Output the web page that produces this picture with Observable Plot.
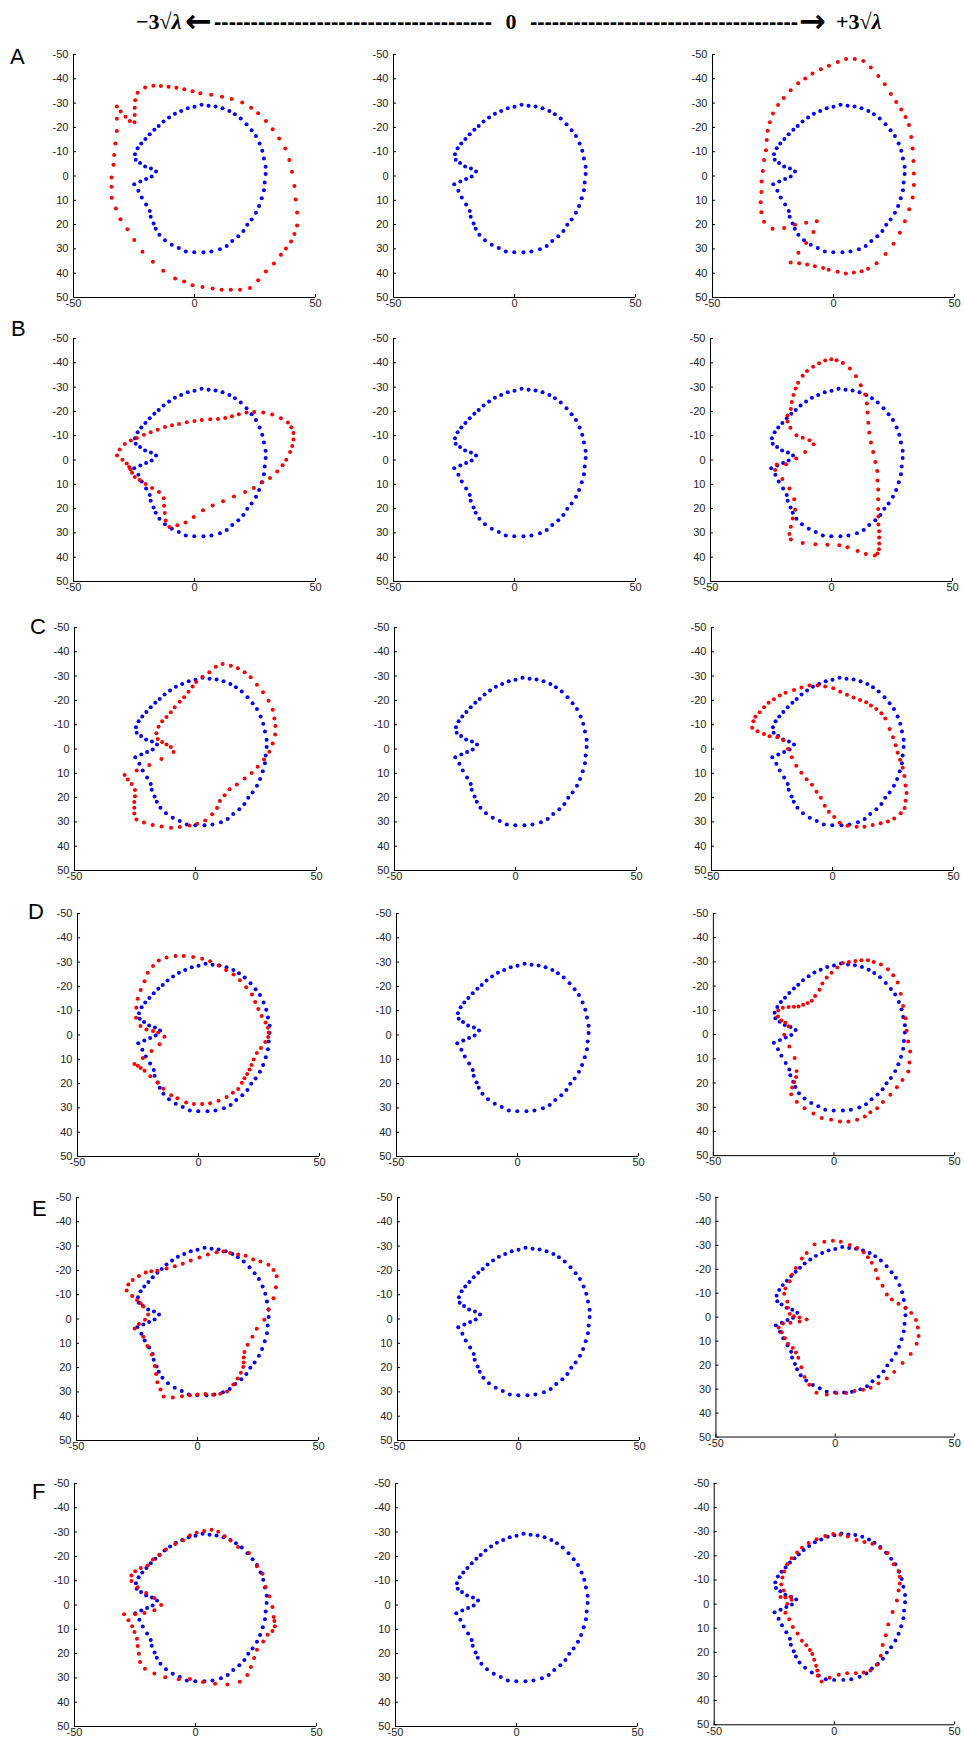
<!DOCTYPE html>
<html><head><meta charset="utf-8">
<script src="https://cdn.jsdelivr.net/npm/d3@7"></script>
<script src="https://cdn.jsdelivr.net/npm/@observablehq/plot@0.6"></script>
<style>
body{margin:0;background:#fff;}
#root{position:relative;width:964px;height:1744px;overflow:hidden;background:#fff;font-family:"Liberation Sans",Arial,sans-serif;}
.panel{position:absolute;}
.rowlabel{position:absolute;font-size:22px;line-height:1;color:#000;font-family:"Liberation Sans",Arial,sans-serif;}
</style>
</head><body><div id="root"></div>
<script>
// ---------- data ----------
const rowLabels = ["A","B","C","D","E","F"];
const xTicks = [-50, 0, 50];
const yTicks = [-50,-40,-30,-20,-10,0,10,20,30,40,50];
const headerLeft = "−3√";
const headerCenter = "0";
const headerRight = "+3√";
const headerLambda = "λ";

const meanShape = [[2.9,-29.3],[5.8,-28.9],[8.7,-28.6],[11.6,-27.9],[14.4,-26.8],[16.7,-25.4],[19.1,-23.7],[21.5,-21.3],[23.6,-18.8],[25.4,-16.5],[26.9,-13.4],[28.0,-10.4],[28.7,-7.2],[29.4,-3.8],[29.4,-0.8],[29.0,2.7],[28.7,5.9],[27.8,9.2],[26.7,12.3],[25.4,15.1],[23.6,17.9],[21.8,20.1],[20.2,22.6],[18.1,24.8],[15.6,26.7],[13.3,28.8],[10.5,30.1],[7.0,31.1],[3.7,31.4],[-0.1,31.4],[-3.6,31.1],[-6.5,29.6],[-9.4,28.3],[-12.2,26.4],[-14.5,24.2],[-16.0,21.7],[-16.9,19.5],[-18.1,16.8],[-18.5,14.4],[-20.0,11.7],[-21.8,8.8],[-23.2,6.1],[-24.9,3.4],[-22.4,2.3],[-20.0,1.2],[-17.7,0.2],[-15.9,-1.9],[-18.0,-3.1],[-20.4,-3.9],[-22.5,-5.3],[-24.3,-6.7],[-24.6,-9.0],[-23.5,-11.4],[-22.0,-13.4],[-20.3,-15.2],[-18.5,-17.2],[-16.6,-19.0],[-14.8,-20.6],[-12.8,-22.4],[-10.5,-24.1],[-8.1,-25.6],[-5.5,-26.8],[-2.8,-27.9],[0.0,-28.5]];

const shapeA_minus = [[-23.5,-34.3],[-20.4,-36.4],[-17.0,-37.1],[-13.9,-37.0],[-10.7,-36.7],[-7.5,-36.3],[-4.2,-35.7],[-0.8,-34.9],[2.4,-34.1],[6.9,-33.4],[11.4,-32.6],[15.4,-31.7],[19.7,-30.2],[23.4,-28.1],[26.3,-25.8],[29.5,-22.6],[32.3,-19.2],[35.0,-15.4],[37.5,-11.3],[39.2,-6.6],[40.3,-1.8],[41.3,4.1],[41.8,9.7],[42.4,15.0],[42.4,20.4],[41.3,23.9],[39.9,27.0],[37.8,29.8],[35.7,32.4],[32.8,36.0],[29.5,39.3],[26.3,42.9],[22.9,46.1],[18.8,46.8],[15.0,46.8],[11.2,46.8],[7.5,46.3],[3.3,45.7],[-0.8,45.0],[-4.3,43.4],[-8.0,42.2],[-12.9,39.0],[-17.2,35.3],[-21.5,31.2],[-24.9,26.3],[-27.7,21.9],[-30.6,17.8],[-32.5,13.4],[-34.2,9.0],[-34.3,4.4],[-34.3,0.6],[-33.5,-4.6],[-33.2,-8.6],[-32.7,-13.4],[-32.1,-18.5],[-32.1,-23.6],[-32.1,-28.6],[-30.5,-26.5],[-28.5,-24.4],[-26.7,-22.6],[-24.8,-22.1],[-24.7,-25.1],[-24.7,-28.1],[-24.5,-31.2]];

const shapeA_plus = [[5.2,-48.1],[8.8,-48.1],[12.3,-47.3],[15.4,-44.7],[18.5,-41.2],[21.2,-37.8],[23.7,-33.7],[25.9,-30.5],[28.0,-27.4],[29.8,-24.3],[31.2,-21.0],[32.1,-16.1],[32.7,-11.3],[33.0,-6.2],[33.2,-1.0],[33.2,3.7],[32.7,8.8],[31.3,13.7],[29.5,18.6],[27.4,23.4],[24.8,27.9],[21.5,32.1],[17.8,35.9],[14.3,38.2],[11.6,39.2],[8.4,39.7],[5.1,40.1],[1.7,39.4],[-2.0,38.6],[-4.3,37.9],[-7.7,37.1],[-10.9,36.4],[-14.2,35.9],[-17.7,35.6],[-14.5,31.6],[-11.3,27.6],[-8.3,23.0],[-6.9,18.6],[-11.3,19.2],[-15.9,20.1],[-20.4,21.4],[-25.2,21.7],[-28.7,18.8],[-29.8,14.9],[-30.1,10.8],[-29.8,6.6],[-29.7,2.3],[-29.2,-2.1],[-28.7,-6.6],[-27.9,-10.6],[-27.6,-14.8],[-27.2,-18.6],[-26.3,-22.1],[-25.0,-25.7],[-22.9,-29.2],[-20.6,-32.1],[-17.7,-35.3],[-14.6,-38.2],[-11.7,-40.1],[-8.7,-42.2],[-5.2,-43.9],[-1.9,-45.4],[1.8,-46.9]];

const shapeB_minus = [[-32.0,-1.9],[-30.9,-4.3],[-28.8,-6.6],[-26.3,-8.0],[-23.8,-9.1],[-20.9,-10.4],[-18.1,-11.4],[-15.2,-12.5],[-12.2,-13.6],[-9.3,-14.3],[-6.4,-14.8],[-3.2,-15.5],[0.0,-16.1],[3.0,-16.5],[6.5,-16.8],[9.7,-16.9],[12.7,-17.3],[15.5,-18.0],[18.3,-18.8],[21.5,-19.5],[24.7,-19.8],[28.4,-19.5],[32.1,-18.7],[35.7,-17.2],[38.6,-15.4],[40.0,-13.5],[40.9,-11.1],[40.9,-8.4],[40.4,-5.8],[39.5,-3.3],[37.9,-0.1],[36.4,2.2],[34.2,4.7],[31.2,7.4],[28.0,9.2],[24.5,11.5],[20.9,13.2],[16.3,15.0],[11.8,17.0],[7.5,18.7],[3.5,20.7],[-0.3,23.5],[-3.7,25.7],[-7.1,26.9],[-10.4,27.6],[-11.9,24.9],[-12.3,21.8],[-12.6,18.8],[-12.7,15.7],[-14.7,13.2],[-17.5,11.5],[-20.2,9.9],[-22.7,8.2],[-24.7,7.0],[-25.8,5.2],[-26.5,3.8],[-27.0,2.9],[-28.0,1.4],[-29.8,-0.1]];

const shapeB_plus = [[-0.1,-41.5],[2.1,-41.1],[4.7,-39.9],[7.6,-37.7],[10.1,-34.5],[12.1,-30.8],[13.9,-27.0],[14.6,-23.2],[14.9,-19.5],[15.2,-15.3],[15.6,-11.3],[16.3,-7.2],[17.2,-3.3],[18.1,0.8],[18.9,4.5],[19.0,8.4],[19.3,12.1],[19.3,16.2],[19.3,20.2],[19.4,23.2],[19.4,26.5],[19.7,29.3],[19.7,31.9],[19.7,34.4],[19.6,36.7],[19.0,38.5],[17.9,39.3],[14.2,38.7],[10.8,37.4],[6.6,35.9],[3.2,35.1],[-1.7,34.9],[-6.6,34.7],[-11.9,34.2],[-16.8,32.7],[-17.4,30.5],[-16.8,27.5],[-16.0,24.1],[-15.0,20.5],[-15.4,16.2],[-17.4,11.7],[-20.3,7.8],[-23.3,4.1],[-22.6,1.9],[-18.8,1.8],[-14.6,-0.6],[-10.9,-3.3],[-7.4,-6.5],[-9.1,-8.1],[-11.9,-9.2],[-14.5,-10.2],[-17.0,-13.3],[-18.2,-15.8],[-18.2,-18.3],[-16.8,-21.0],[-16.4,-23.9],[-15.7,-26.7],[-14.8,-29.4],[-13.8,-31.8],[-11.9,-34.7],[-10.1,-36.6],[-7.6,-38.4],[-5.1,-39.8],[-2.6,-40.9]];

const shapeC_minus = [[11.2,-35.0],[14.6,-34.3],[17.5,-33.2],[20.3,-31.6],[22.8,-29.5],[25.4,-26.4],[27.9,-23.4],[30.2,-19.9],[31.9,-16.2],[32.6,-12.6],[33.0,-9.5],[32.9,-6.0],[31.9,-2.3],[30.5,1.1],[28.3,4.3],[25.7,7.3],[23.2,9.9],[20.3,12.1],[17.1,14.6],[14.1,16.6],[12.0,19.0],[10.1,21.4],[8.9,24.3],[6.9,26.9],[4.0,29.4],[0.7,30.8],[-2.5,31.5],[-6.5,32.1],[-10.1,32.4],[-14.0,31.9],[-17.7,31.3],[-21.3,30.2],[-24.4,29.0],[-25.3,26.5],[-25.3,24.2],[-25.3,21.8],[-25.0,19.4],[-25.0,16.9],[-26.4,14.4],[-28.0,12.5],[-29.3,10.7],[-24.3,8.8],[-19.1,6.6],[-14.1,4.1],[-9.1,1.2],[-10.2,-0.8],[-12.0,-1.9],[-13.8,-2.9],[-15.6,-4.1],[-16.2,-6.5],[-15.3,-9.2],[-13.8,-11.4],[-12.0,-13.2],[-10.2,-15.1],[-8.6,-17.2],[-6.5,-19.4],[-4.7,-21.3],[-2.9,-23.6],[-1.2,-25.7],[0.3,-27.6],[2.9,-29.7],[5.7,-31.6],[8.4,-33.8]];

const shapeC_plus = [[-33.2,-8.7],[-32.7,-11.4],[-31.9,-13.3],[-30.1,-15.1],[-28.3,-17.2],[-26.4,-19.0],[-24.2,-20.5],[-21.8,-22.0],[-19.4,-23.1],[-15.9,-24.3],[-12.8,-25.3],[-9.5,-26.1],[-6.2,-26.1],[-3.0,-25.7],[0.3,-25.0],[3.2,-23.6],[6.0,-22.3],[8.7,-21.2],[11.4,-20.2],[13.9,-19.2],[15.9,-17.9],[18.1,-16.5],[20.2,-14.7],[21.8,-12.6],[23.6,-8.2],[25.0,-4.8],[26.1,-1.5],[26.9,1.5],[27.9,4.4],[29.0,7.7],[29.7,11.1],[30.2,15.0],[30.6,18.1],[30.2,21.3],[29.8,24.3],[28.2,26.4],[25.5,28.6],[22.9,29.8],[19.9,30.6],[16.6,31.3],[13.2,32.0],[10.0,32.0],[6.2,31.6],[3.0,30.4],[0.7,28.0],[-1.5,25.8],[-3.2,23.4],[-4.8,20.1],[-6.6,17.6],[-8.5,14.7],[-10.7,12.4],[-12.9,9.8],[-15.0,6.9],[-16.8,3.4],[-18.4,0.0],[-20.3,-3.6],[-22.8,-4.8],[-26.0,-5.2],[-28.3,-6.2],[-31.0,-7.3]];

const shapeD_minus = [[-9.5,-32.5],[-6.1,-32.5],[-2.2,-32.1],[1.5,-31.4],[4.8,-30.4],[8.3,-28.6],[11.4,-26.8],[14.5,-24.9],[17.1,-22.5],[19.7,-19.7],[22.1,-16.7],[23.4,-13.6],[24.7,-10.7],[26.1,-7.8],[27.7,-5.1],[28.7,-3.0],[29.0,-1.0],[28.8,0.8],[27.6,2.9],[25.8,5.3],[24.1,7.4],[22.8,10.1],[21.9,12.3],[21.1,14.2],[20.1,16.0],[19.0,17.8],[17.9,19.7],[16.4,22.2],[14.2,23.8],[11.6,25.5],[8.3,27.1],[4.8,28.1],[1.5,28.4],[-1.9,28.4],[-5.1,27.8],[-8.7,26.0],[-11.3,24.8],[-14.5,22.1],[-16.8,19.5],[-19.9,17.0],[-22.3,14.7],[-23.9,13.6],[-25.1,12.7],[-26.5,11.9],[-23.0,9.5],[-19.4,6.6],[-16.1,3.8],[-14.1,0.7],[-16.6,-1.0],[-18.8,-1.6],[-21.5,-2.3],[-24.0,-3.7],[-25.8,-7.1],[-25.7,-11.2],[-25.1,-14.9],[-23.9,-18.5],[-22.3,-22.1],[-21.0,-25.6],[-18.8,-28.4],[-16.4,-30.7],[-13.2,-31.9]];

const shapeD_plus = [[6.2,-30.0],[8.9,-30.4],[11.4,-30.7],[14.1,-30.7],[16.5,-30.0],[19.5,-28.9],[22.4,-27.0],[24.6,-24.5],[26.4,-21.5],[27.7,-16.8],[28.7,-11.8],[29.7,-6.7],[30.1,-1.6],[30.8,2.9],[31.6,7.0],[31.3,11.5],[30.8,15.3],[28.4,18.8],[26.1,21.8],[23.4,24.9],[20.3,27.9],[17.9,30.4],[15.1,32.1],[12.8,33.8],[9.6,35.2],[6.0,35.9],[2.5,35.9],[-1.2,35.2],[-5.1,34.5],[-8.5,32.6],[-12.2,30.4],[-15.4,27.8],[-17.7,24.7],[-17.3,21.9],[-16.5,19.6],[-15.7,17.5],[-15.5,15.1],[-16.3,9.7],[-18.5,4.9],[-20.6,0.1],[-18.8,-3.4],[-20.1,-4.9],[-21.8,-5.8],[-23.2,-7.5],[-23.1,-9.9],[-21.2,-11.1],[-18.8,-11.4],[-16.6,-11.5],[-14.7,-11.6],[-12.8,-12.3],[-10.9,-13.0],[-9.2,-14.0],[-7.8,-15.9],[-6.0,-18.5],[-4.8,-21.1],[-3.0,-23.6],[-1.0,-25.5],[1.4,-27.7],[3.7,-29.5]];

const shapeE_minus = [[-29.3,-11.7],[-28.6,-14.2],[-26.8,-16.1],[-24.2,-17.7],[-21.4,-19.1],[-19.1,-19.7],[-16.6,-19.9],[-12.8,-20.8],[-9.4,-21.7],[-6.1,-22.7],[-2.8,-24.1],[0.8,-25.3],[4.3,-26.5],[7.9,-27.5],[10.7,-27.8],[13.5,-27.2],[16.8,-26.5],[19.9,-26.0],[23.0,-24.5],[26.0,-23.7],[29.3,-22.3],[31.4,-20.2],[32.7,-17.6],[32.4,-13.1],[31.4,-8.5],[29.3,-4.0],[27.6,0.3],[24.5,4.0],[22.7,7.3],[20.7,10.6],[19.4,13.6],[19.1,15.8],[19.1,17.9],[18.9,19.8],[17.9,22.1],[16.6,24.5],[14.8,27.0],[12.2,29.8],[9.4,30.8],[6.4,31.2],[3.3,30.9],[0.0,31.1],[-3.1,31.4],[-6.4,31.8],[-10.2,32.3],[-14.0,31.9],[-15.3,29.0],[-16.6,26.0],[-17.1,22.6],[-17.6,19.3],[-18.9,14.6],[-20.7,11.1],[-22.4,7.3],[-26.0,3.9],[-24.2,2.1],[-21.7,0.3],[-20.4,-1.9],[-22.4,-5.1],[-23.5,-6.5],[-25.0,-7.8],[-27.0,-9.5]];

const shapeE_plus = [[-1.0,-31.9],[-4.6,-31.5],[-8.7,-30.4],[-12.0,-26.8],[-14.0,-24.5],[-16.5,-20.5],[-18.1,-17.7],[-19.1,-15.0],[-20.9,-12.0],[-21.4,-9.8],[-20.1,-6.5],[-19.8,-4.0],[-19.1,-1.4],[-17.3,-0.4],[-15.0,0.1],[-12.0,0.9],[-15.0,1.8],[-18.8,2.3],[-21.9,2.6],[-23.7,4.3],[-22.4,6.3],[-21.1,8.8],[-19.8,11.1],[-17.8,12.8],[-16.5,14.7],[-15.5,16.9],[-14.2,20.9],[-12.9,24.9],[-10.9,28.2],[-7.9,31.5],[-3.6,32.3],[0.5,31.6],[4.6,31.6],[8.1,30.8],[11.7,30.3],[14.8,29.4],[18.1,27.6],[21.6,25.6],[24.7,22.8],[28.2,19.1],[31.6,15.3],[34.1,11.1],[34.9,7.8],[34.6,4.3],[33.8,1.2],[31.8,-1.8],[29.5,-4.0],[26.5,-5.6],[23.7,-7.4],[21.6,-9.5],[19.8,-13.1],[17.8,-16.2],[17.0,-19.7],[15.3,-22.7],[13.7,-25.0],[11.9,-27.1],[9.2,-28.9],[6.1,-30.1],[2.3,-31.5]];

const shapeF_minus = [[6.6,-31.0],[3.6,-30.5],[0.5,-29.7],[-2.3,-28.6],[-5.1,-26.6],[-8.4,-25.1],[-12.2,-22.8],[-15.0,-20.7],[-17.6,-18.7],[-19.8,-16.3],[-22.6,-15.2],[-24.9,-13.9],[-26.5,-12.1],[-26.5,-9.9],[-23.9,-7.3],[-20.4,-4.9],[-17.0,-2.9],[-14.2,0.0],[-17.0,2.2],[-21.1,3.3],[-24.9,3.8],[-29.5,3.8],[-27.7,6.3],[-26.2,8.7],[-25.2,11.1],[-24.2,13.9],[-23.9,16.9],[-23.4,20.1],[-22.9,23.5],[-20.9,26.2],[-17.0,28.2],[-12.5,29.7],[-6.9,30.6],[-2.3,30.5],[3.1,31.7],[8.1,32.4],[13.2,32.7],[18.3,31.6],[21.4,28.8],[22.9,25.5],[24.2,21.8],[25.4,18.4],[28.0,15.0],[29.8,12.2],[31.8,10.7],[32.8,8.7],[32.6,6.6],[32.3,4.9],[31.8,0.8],[30.5,-3.6],[29.0,-7.4],[27.7,-12.9],[25.4,-15.9],[22.1,-21.4],[17.6,-23.9],[14.5,-26.5],[12.0,-28.3],[9.4,-30.1]];

const shapeF_plus = [[-0.5,-29.1],[-3.8,-28.2],[-7.4,-26.9],[-10.7,-25.3],[-13.5,-23.4],[-15.5,-21.4],[-17.8,-19.0],[-19.6,-16.5],[-20.9,-13.5],[-21.6,-11.0],[-22.1,-8.1],[-21.1,-5.6],[-22.4,-2.9],[-20.4,-2.7],[-18.3,-3.0],[-17.8,-1.8],[-19.6,-0.1],[-20.4,3.6],[-18.8,6.3],[-17.3,9.5],[-15.3,12.2],[-13.5,15.2],[-11.7,17.0],[-10.2,19.0],[-9.2,20.7],[-8.4,23.1],[-7.6,25.5],[-7.1,27.5],[-6.9,29.7],[-5.3,32.1],[-2.0,30.5],[1.8,29.3],[5.3,28.6],[8.9,28.6],[12.2,28.3],[15.0,27.5],[17.6,25.1],[19.3,21.4],[20.1,16.9],[21.4,12.9],[22.4,8.4],[24.2,3.3],[26.0,-1.5],[26.7,-5.6],[27.2,-8.5],[27.2,-11.3],[26.7,-13.7],[24.7,-16.5],[22.1,-21.2],[19.1,-23.2],[15.8,-25.0],[12.5,-25.7],[9.2,-26.6],[5.6,-28.0],[2.5,-28.7]];

// ---------- layout ----------
const panelRows = [
  [shapeA_minus, shapeA_plus],
  [shapeB_minus, shapeB_plus],
  [shapeC_minus, shapeC_plus],
  [shapeD_minus, shapeD_plus],
  [shapeE_minus, shapeE_plus],
  [shapeF_minus, shapeF_plus]
];
const rowTops = [54, 338, 627, 913, 1197, 1483];
const colLefts = [[73,393,712],[73,393,710],[74,394,711],[77,396,713],[76,397,716],[74,395,714]];
const labelPos = [[10,66],[11,338],[30,636],[28,921],[32,1218],[32,1501]];
const FW = 242, FH = 243, ML = 40, MR = 10, MT = 8, MB = 22;

const root = document.getElementById("root");

function makePanel(redShape) {
  const marks = [
    Plot.ruleX([-50], {stroke: "#000", strokeWidth: 1}),
    Plot.ruleY([50], {stroke: "#000", strokeWidth: 1}),
    Plot.axisY(yTicks, {anchor: "left", tickSize: -3, tickPadding: 8, fontSize: 11, fill: "#222", stroke: "#000", tickFormat: d => String(d), label: null}),
    Plot.axisX(xTicks, {anchor: "bottom", tickSize: -3, tickPadding: 5, fontSize: 11, fill: "#222", stroke: "#000", tickFormat: d => String(d), label: null}),
    Plot.dot(meanShape, {x: d => d[0], y: d => d[1], r: 2, fill: "#0000ff", stroke: "none"})
  ];
  if (redShape) marks.push(Plot.dot(redShape, {x: d => d[0], y: d => d[1], r: 2, fill: "#ff0000", stroke: "none"}));
  return Plot.plot({
    width: FW + ML + MR, height: FH + MT + MB,
    marginLeft: ML, marginRight: MR, marginTop: MT, marginBottom: MB,
    x: {domain: [-50, 50]},
    y: {domain: [-50, 50], reverse: true},
    style: {background: "transparent", overflow: "visible", fontFamily: "'Liberation Sans', Arial, sans-serif"},
    marks
  });
}

panelRows.forEach((row, ri) => {
  const shapes = [row[0], null, row[1]];
  shapes.forEach((s, ci) => {
    const div = document.createElement("div");
    div.className = "panel";
    div.style.left = (colLefts[ri][ci] - ML) + "px";
    div.style.top = (rowTops[ri] - MT) + "px";
    div.appendChild(makePanel(s));
    root.appendChild(div);
  });
  const lab = document.createElement("div");
  lab.className = "rowlabel";
  lab.textContent = rowLabels[ri];
  lab.style.left = labelPos[ri][0] + "px";
  lab.style.top = (labelPos[ri][1] - 20) + "px";
  root.appendChild(lab);
});

// ---------- header ----------
const hs = d3.create("svg").attr("width", 964).attr("height", 45)
  .style("position", "absolute").style("left", "0px").style("top", "0px");
const hf = "'Liberation Serif', 'DejaVu Serif', serif";
const t1 = hs.append("text").attr("x", 136).attr("y", 29).attr("font-family", hf).attr("font-size", 22).attr("font-weight", "bold");
t1.append("tspan").text(headerLeft);
t1.append("tspan").attr("font-style", "italic").text(headerLambda);
hs.append("text").attr("x", 185).attr("y", 32).attr("font-family", "'DejaVu Sans', sans-serif").attr("font-size", 32).attr("font-weight", "bold").text("←");
hs.append("text").attr("x", 214).attr("y", 29).attr("font-family", "'Liberation Sans', sans-serif").attr("font-size", 22).attr("font-weight", "bold")
  .attr("textLength", 278).attr("lengthAdjust", "spacing").text("-".repeat(38));
hs.append("text").attr("x", 511).attr("y", 29).attr("text-anchor", "middle").attr("font-family", hf).attr("font-size", 22).attr("font-weight", "bold").text(headerCenter);
hs.append("text").attr("x", 530).attr("y", 29).attr("font-family", "'Liberation Sans', sans-serif").attr("font-size", 22).attr("font-weight", "bold")
  .attr("textLength", 268).attr("lengthAdjust", "spacing").text("-".repeat(37));
hs.append("text").attr("x", 799).attr("y", 32).attr("font-family", "'DejaVu Sans', sans-serif").attr("font-size", 32).attr("font-weight", "bold").text("→");
const t2 = hs.append("text").attr("x", 836).attr("y", 29).attr("font-family", hf).attr("font-size", 22).attr("font-weight", "bold");
t2.append("tspan").text(headerRight);
t2.append("tspan").attr("font-style", "italic").text(headerLambda);
root.appendChild(hs.node());
</script>
</body></html>
